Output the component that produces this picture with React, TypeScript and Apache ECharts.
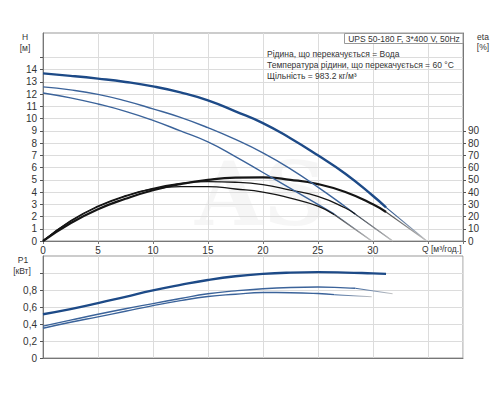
import React, { useEffect, useRef } from "react";
import * as echarts from "echarts";

// Q values (m³/h) for the three speed curves
const qA = [0, 2.5, 5, 7.5, 10, 12.5, 15, 17.5, 20, 22.5, 25, 27.5, 30, 31.2];
const qB = [0, 2.5, 5, 7.5, 10, 12.5, 15, 17.5, 20, 22.5, 25, 27.5, 28.4];
const qC = [0, 2.5, 5, 7.5, 10, 12.5, 15, 17.5, 20, 22.5, 25, 26.5];

// Head H (m)
const hA = [13.7, 13.5, 13.27, 13.0, 12.64, 12.15, 11.5, 10.6, 9.64, 8.4, 7.0, 5.5, 3.7, 2.75];
const hB = [12.6, 12.35, 11.98, 11.45, 10.8, 10.1, 9.26, 8.3, 7.2, 5.9, 4.4, 2.8, 2.2];
const hC = [12.1, 11.7, 11.2, 10.6, 9.86, 9.0, 8.1, 6.9, 5.6, 4.3, 3.0, 2.2];

// Efficiency eta (%)
const etaA = [0, 14.5, 26, 34.5, 41.5, 46.5, 50, 51.8, 52, 50, 46.5, 40, 30, 23.7];
const etaB = [0, 16, 28, 36.5, 43, 47, 48.5, 48, 46, 41.5, 36.5, 27, 22];
const etaC = [0, 16.5, 28.5, 37, 42.5, 44.5, 44.5, 42.5, 40, 35, 28.5, 21.5];

// Power P1 (kW)
const pA = [0.515, 0.575, 0.645, 0.72, 0.795, 0.86, 0.918, 0.962, 0.99, 1.005, 1.01, 1.005, 0.995, 0.99];
const pB = [0.375, 0.445, 0.515, 0.58, 0.64, 0.7, 0.756, 0.79, 0.815, 0.83, 0.835, 0.825, 0.82];
const pC = [0.35, 0.42, 0.484, 0.55, 0.616, 0.675, 0.724, 0.75, 0.77, 0.768, 0.758, 0.745];

// Extension end points (Q, P1) for the light continuation lines
const qEnd = [34.9, 31.8, 29.9];
const pEnd = [0.99, 0.756, 0.72];

// Axis ticks / labels
const xLabels = [0, 5, 10, 15, 20, 25, 30];
const hLabels = [0, 1, 2, 3, 4, 5, 6, 7, 8, 9, 10, 11, 12, 13, 14];
const hTicks = [0, 1, 2, 3, 4, 5, 6, 7, 8, 9, 10, 11, 12, 13, 14, 15];
const etaLabels = [0, 10, 20, 30, 40, 50, 60, 70, 80, 90];
const pLabels = [0, 0.2, 0.4, 0.6, 0.8];
const pTicks = [0, 0.2, 0.4, 0.6, 0.8, 1.0];

const titleText = "UPS 50-180 F, 3*400 V, 50Hz";
const infoLines = [
  "Рідина, що перекачується = Вода",
  "Температура рідини, що перекачується = 60 °C",
  "Щільність = 983.2 кг/м³",
];

const FONT = "Liberation Sans, Arial, sans-serif";
const BLUE_THICK = "#1d4a87";
const BLUE_THIN = "#3b639a";
const BLACK = "#151515";

const pairs = (q: number[], v: number[]) => q.map((x, i) => [x, v[i]]);
const last = (a: number[]) => a[a.length - 1];

export default function App() {
  const ref = useRef<HTMLDivElement>(null);
  useEffect(() => {
    if (!ref.current) return;
    const chart = echarts.init(ref.current, null, { renderer: "svg" });
    const grad = (c: string) =>
      new echarts.graphic.LinearGradient(0, 0, 1, 0, [
        { offset: 0, color: c },
        { offset: 1, color: "#c4c4c4" },
      ]);
    const line = (name: string, data: number[][], xi: number, yi: number, color: any, width: number, z = 3) => ({
      name,
      type: "line",
      xAxisIndex: xi,
      yAxisIndex: yi,
      data,
      showSymbol: false,
      smooth: true,
      lineStyle: { color, width },
      z,
      silent: true,
    });
    const qs = [qA, qB, qC];
    const hs = [hA, hB, hC];
    const etas = [etaA, etaB, etaC];
    const ps = [pA, pB, pC];
    const series: any[] = [];
    for (let k = 0; k < 3; k++) {
      const w = k === 0 ? 2.4 : 1.4;
      const bc = k === 0 ? BLUE_THICK : BLUE_THIN;
      series.push(line("H" + k, pairs(qs[k], hs[k]), 0, 0, bc, w));
      series.push(line("eta" + k, pairs(qs[k], etas[k]), 0, 1, BLACK, k === 0 ? 2.2 : 1.3));
      series.push(line("P" + k, pairs(qs[k], ps[k]), 1, 2, bc, w));
      series.push(
        line("Hx" + k, [[last(qs[k]), last(hs[k])], [qEnd[k], 0]], 0, 0, grad(bc), 1.1, 2)
      );
      series.push(
        line("etax" + k, [[last(qs[k]), last(etas[k])], [qEnd[k], 0]], 0, 1, grad("#444"), 1.1, 2)
      );
      series.push(
        line("Px" + k, [[last(qs[k]), last(ps[k])], [qEnd[k], pEnd[k]]], 1, 2, grad(bc), 1.1, 2)
      );
    }
    const axisLine = { show: true, lineStyle: { color: "#777", width: 1 } };
    const split = { show: true, lineStyle: { color: "#dcdcdc", width: 1 } };
    const lab = { color: "#333", fontSize: 10, fontFamily: FONT };
    const txt = (text: string, x: number, y: number, align = "center") => ({
      type: "text",
      x,
      y,
      z: 11,
      style: { text, fontSize: 8.5, fontFamily: FONT, fill: "#333", align, verticalAlign: "middle" },
    });
    chart.setOption({
      animation: false,
      grid: [
        { left: 43, top: 33, width: 420, height: 208, show: true, borderColor: "#999", borderWidth: 1, backgroundColor: "transparent" },
        { left: 43, top: 256, width: 420, height: 102, show: true, borderColor: "#999", borderWidth: 1, backgroundColor: "transparent" },
      ],
      xAxis: [
        {
          gridIndex: 0,
          type: "value",
          min: 0,
          max: 38.2,
          interval: 5,
          axisLine,
          splitLine: split,
          axisTick: { show: true, length: 3, lineStyle: { color: "#777" } },
          axisLabel: { ...lab, margin: 4, customValues: xLabels },
        },
        {
          gridIndex: 1,
          type: "value",
          min: 0,
          max: 38.2,
          interval: 5,
          axisLine,
          splitLine: split,
          axisTick: { show: false },
          axisLabel: { show: false },
        },
      ],
      yAxis: [
        {
          gridIndex: 0,
          type: "value",
          min: 0,
          max: 17,
          interval: 1,
          axisLine,
          splitLine: split,
          axisTick: { show: true, length: 3, customValues: hTicks, lineStyle: { color: "#555" } },
          axisLabel: { ...lab, margin: 6, customValues: hLabels },
        },
        {
          gridIndex: 0,
          type: "value",
          position: "right",
          min: 0,
          max: 170,
          interval: 10,
          axisLine,
          splitLine: { show: false },
          axisTick: { show: true, length: 3, customValues: etaLabels, lineStyle: { color: "#555" } },
          axisLabel: { ...lab, margin: 5, customValues: etaLabels },
        },
        {
          gridIndex: 1,
          type: "value",
          min: 0,
          max: 1.2,
          interval: 0.2,
          axisLine,
          splitLine: split,
          axisTick: { show: true, length: 3, customValues: pTicks, lineStyle: { color: "#555" } },
          axisLabel: {
            ...lab,
            margin: 6,
            customValues: pLabels,
            formatter: (v: number) => (v === 0 ? "0" : v.toFixed(1).replace(".", ",")),
          },
        },
      ],
      graphic: [
        {
          type: "text",
          left: 195,
          top: 150,
          z: 0,
          silent: true,
          style: { text: "AS", fontSize: 88, fontFamily: "DejaVu Serif, serif", fontWeight: "bold", fill: "rgba(0,0,0,0.035)" },
        },
        {
          type: "rect",
          shape: { x: 344.5, y: 33.5, width: 118.5, height: 10 },
          style: { fill: "#fff", stroke: "#999", lineWidth: 1 },
          z: 10,
        },
        txt(titleText, 404, 38.5),
        ...infoLines.map((t, i) => txt(t, 267, 54 + i * 11, "left")),
        txt("H", 25, 37),
        txt("[м]", 25, 48),
        txt("eta", 483, 37),
        txt("[%]", 483, 47),
        txt("P1", 23, 260),
        txt("[кВт]", 22, 271),
        txt("Q [м³/год.]", 422, 249, "left"),
      ],
      series,
    });
    return () => chart.dispose();
  }, []);
  return <div ref={ref} style={{ position: "fixed", left: 0, top: 0, width: 500, height: 400, background: "#fff" }} />;
}
